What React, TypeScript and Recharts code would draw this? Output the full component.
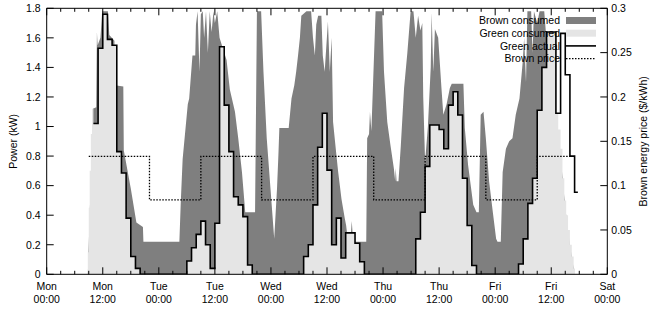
import { Area, ComposedChart, Legend, Line, XAxis, YAxis } from 'recharts';

// hours are counted from Mon 00:00
const DAY_NAMES = ['Mon', 'Tue', 'Wed', 'Thu', 'Fri', 'Sat'];
const LEGEND_LABELS = ['Brown consumed', 'Green consumed', 'Green actual', 'Brown price'];
const POWER_TICKS = [0, 0.2, 0.4, 0.6, 0.8, 1, 1.2, 1.4, 1.6, 1.8];
const PRICE_TICKS = [0, 0.05, 0.1, 0.15, 0.2, 0.25, 0.3];
const HOUR_TICKS = Array.from({ length: 41 }, (_, i) => i * 3);

// top of the dark area (total load, kW)
const TOTAL_LOAD: [number, number][] = [
  // Mon
  [8.8, 0], [9.9, 1.12], [10.6, 1.13], [10.75, 1.64], [10.9, 1.55], [11.5, 1.6], [11.9, 1.78], [13.1, 1.78],
  [13.4, 1.62], [14.5, 1.58], [14.6, 1.28], [16.4, 1.27], [16.5, 0.84], [18, 0.58], [19.2, 0.35], [20.6, 0.32],
  [20.7, 0.22],
  // Tue
  [28.4, 0.22], [28.7, 0.49], [29.1, 0.78], [30.2, 1.15], [30.5, 1.19], [31.2, 1.48], [31.8, 1.48], [31.95, 1.69],
  [32.3, 1.78], [32.7, 1.37], [33.0, 1.76], [33.4, 1.78], [33.7, 1.6], [34.1, 1.78], [34.5, 1.5], [34.9, 1.78],
  [35.3, 1.64], [35.7, 1.78], [36.0, 1.7], [36.5, 1.78], [37.0, 1.6], [37.5, 1.55], [38.5, 1.45], [39.2, 1.25],
  [40.3, 1.1], [41.0, 0.92], [41.8, 0.69], [42.5, 0.42], [44.6, 0.42], [45.0, 1.78], [45.9, 1.78], [46.4, 1.37],
  [47.1, 0.92], [47.9, 0.58], [48.7, 0.24],
  // Wed
  [49.3, 0.58], [49.6, 0.81], [49.8, 0.99], [51.8, 0.99], [52.4, 1.19], [53.0, 1.28], [53.4, 1.37], [53.8, 1.48],
  [54.2, 1.6], [54.5, 1.75], [55.6, 1.78], [56.6, 1.78], [57.0, 1.6], [57.4, 1.48], [57.7, 1.69], [58.1, 1.75],
  [58.8, 1.75], [59.1, 1.48], [59.5, 1.37], [60.2, 1.71], [60.6, 1.37], [61.0, 1.6], [61.3, 1.03], [62.0, 0.81],
  [62.4, 0.69], [63.1, 0.51], [63.8, 0.38], [64.1, 0.33], [64.5, 0.22], [65.0, 0.22], [65.3, 0.36], [65.6, 0.22],
  [68.4, 0.22], [68.6, 0.92], [69.0, 0.95], [69.2, 1.1], [69.5, 0.97], [70.4, 1.78], [71.8, 1.78], [72.2, 1.37],
  [72.9, 1.03], [73.6, 0.87], [74.3, 0.72], [74.6, 0.63], [74.7, 0.72], [74.9, 0.63], [75.3, 0.63], [75.8, 0.87],
  [76.5, 1.26], [77.2, 1.5], [77.9, 1.78],
  // Thu
  [78.5, 1.78], [79.0, 1.6], [79.5, 1.75], [80.0, 1.65], [80.4, 1.7], [80.6, 1.2], [81.0, 0.76], [81.6, 1.0],
  [82.2, 1.4], [82.4, 1.77], [82.75, 1.37], [83.1, 1.66], [83.8, 1.6], [84.5, 1.26], [84.9, 1.08], [85.6, 1.15],
  [86.3, 1.26], [86.7, 1.29], [89.2, 1.29], [89.5, 0.99], [90.2, 0.74], [91.3, 0.47], [92.0, 0.42], [92.5, 0.42],
  [92.9, 1.08], [93.5, 1.1], [94.0, 0.92], [94.7, 0.63], [95.5, 0.42], [96.2, 0.24], [96.5, 0.22], [97.2, 0.22],
  // Fri
  [97.6, 0.69], [98.3, 0.85], [99.0, 0.9], [99.7, 0.92], [100.4, 1.08], [101.2, 1.19], [101.9, 1.44], [102.2, 1.6],
  [102.6, 1.3], [102.9, 1.78], [103.7, 1.78], [104.0, 1.5], [104.3, 1.78], [105.0, 1.7], [105.5, 1.78], [106.5, 1.78],
  [106.9, 1.62], [107.5, 1.6], [108, 1.3], [109, 1.0], [110, 0.8], [111, 0.45], [112, 0.2], [113, 0],
];

// light area, held until the next point (kW)
const GREEN_CONSUMED: [number, number][] = [
  [8.8, 0.15], [9.0, 0.45], [9.2, 0.7], [9.45, 0.95], [9.7, 1.12], [10, 1.02], [11, 1.53], [12, 1.76], [13, 1.59],
  [14, 1.55], [15, 0.83], [16, 0.685], [17, 0.38], [18, 0.12], [19, 0.04], [20, 0],
  [30, 0.09], [31, 0.18], [32, 0.27], [33, 0.36], [34, 0.2], [35, 0.04], [36, 0.345], [37, 1.54], [38, 1.145],
  [39, 0.83], [40, 0.525], [41, 0.47], [42, 0.39], [43, 0.063], [44, 0],
  [55, 0.12], [56, 0.2], [57, 0.47], [58, 0.86], [59, 1.09], [60, 0.705], [61, 0.2], [62, 0.38], [63, 0.11],
  [64, 0.28], [66, 0.21], [67, 0.085], [68, 0],
  [79, 0.24], [80, 0.42], [81, 0.73], [82, 1.01], [84, 0.98], [85, 0.85], [86, 1.145], [87, 1.235], [88, 1.078],
  [89, 0.65], [90, 0.33], [91, 0.06], [92, 0],
  [101, 0.07], [102, 0.24], [103, 0.48], [104, 0.65], [105, 1.11], [106, 1.4], [107, 1.64], [109, 1.09],
  [109.5, 0.98], [110, 0.85], [110.4, 0.65], [110.8, 0.5], [111.2, 0.4], [111.6, 0.3], [112, 0.2], [112.4, 0.12],
  [112.8, 0.04], [113.1, 0],
];

// hourly solar production (kW)
const GREEN_ACTUAL: [number, number][] = [
  [10, 1.02], [11, 1.53], [12, 1.76], [13, 1.59], [14, 1.55], [15, 0.83], [16, 0.685], [17, 0.38], [18, 0.12],
  [19, 0.04], [20, 0],
  [30, 0.09], [31, 0.18], [32, 0.27], [33, 0.36], [34, 0.2], [35, 0.04], [36, 0.345], [37, 1.54], [38, 1.145],
  [39, 0.83], [40, 0.525], [41, 0.47], [42, 0.39], [43, 0.063], [44, 0],
  [55, 0.12], [56, 0.2], [57, 0.47], [58, 0.86], [59, 1.09], [60, 0.705], [61, 0.2], [62, 0.38], [63, 0.11],
  [64, 0.28], [66, 0.21], [67, 0.085], [68, 0],
  [79, 0.24], [80, 0.42], [81, 0.73], [82, 1.01], [84, 0.98], [85, 0.85], [86, 1.145], [87, 1.235], [88, 1.078],
  [89, 0.65], [90, 0.33], [91, 0.06], [92, 0],
  [101, 0.07], [102, 0.24], [103, 0.48], [104, 0.65], [105, 1.11], [106, 1.4], [107, 1.64], [109, 1.09],
  [110, 1.63], [111, 1.35], [112, 0.8], [113, 0.555], [113.7, 0.555],
];

// $/kWh
const BROWN_PRICE: [number, number][] = [
  [9, 0.133], [22, 0.084], [33, 0.133], [46, 0.084], [57, 0.133], [70, 0.084], [81, 0.133], [94, 0.084],
  [105, 0.133], [112.5, 0.133],
];

const FONT = '"Liberation Sans", Arial, Helvetica, sans-serif';
const DARK = '#7f7f7f';
const LIGHT = '#e5e5e5';

const rows = (pts: [number, number][]) => pts.map(([h, v]) => ({ h, v }));

function BottomTick({ x, y, payload }: any) {
  const h = payload.value as number;
  const major = h % 12 === 0;
  return (
    <g>
      <line x1={x} x2={x} y1={y} y2={y - (major ? 7 : 3.5)} stroke="#000" />
      {major && (
        <text x={x} y={y + 16} textAnchor="middle" fontSize={10.5} fontFamily={FONT} fill="#000">
          <tspan x={x}>{DAY_NAMES[Math.floor(h / 24)]}</tspan>
          <tspan x={x} dy={13}>{h % 24 === 0 ? '00:00' : '12:00'}</tspan>
        </text>
      )}
    </g>
  );
}

function TopTick({ x, y, payload }: any) {
  const major = (payload.value as number) % 12 === 0;
  return <line x1={x} x2={x} y1={y} y2={y + (major ? 7 : 3.5)} stroke="#000" />;
}

function LeftTick({ x, y, payload }: any) {
  return (
    <g>
      <line x1={x} x2={x + 7} y1={y} y2={y} stroke="#000" />
      <text x={x - 6} y={y + 3.8} textAnchor="end" fontSize={10.5} fontFamily={FONT} fill="#000">
        {String(payload.value)}
      </text>
    </g>
  );
}

function RightTick({ x, y, payload }: any) {
  return (
    <g>
      <line x1={x} x2={x - 7} y1={y} y2={y} stroke="#000" />
      <text x={x + 4} y={y + 3.8} textAnchor="start" fontSize={10.5} fontFamily={FONT} fill="#000">
        {String(payload.value)}
      </text>
    </g>
  );
}

function axisTitle(text: string, dx: number) {
  return ({ viewBox }: any) => {
    const cx = viewBox.x + dx;
    const cy = viewBox.y + viewBox.height / 2;
    return (
      <text x={cx} y={cy} transform={`rotate(-90 ${cx} ${cy})`} textAnchor="middle"
        dominantBaseline="central" fontSize={10.5} fontFamily={FONT} fill="#000">
        {text}
      </text>
    );
  };
}

function KeyBox() {
  const rowY = [10.5, 23.2, 35.9, 48.6];
  return (
    <svg width={140} height={60} style={{ display: 'block', overflow: 'visible' }}>
      {LEGEND_LABELS.map((label, i) => (
        <text key={label} x={90} y={rowY[i] + 3.8} textAnchor="end" fontSize={10.5} fontFamily={FONT} fill="#000">
          {label}
        </text>
      ))}
      <rect x={96} y={rowY[0] - 3.5} width={30} height={7} fill={DARK} />
      <rect x={96} y={rowY[1] - 3.5} width={30} height={7} fill={LIGHT} />
      <line x1={96} x2={126} y1={rowY[2]} y2={rowY[2]} stroke="#000" strokeWidth={1.6} />
      <line x1={96} x2={126} y1={rowY[3]} y2={rowY[3]} stroke="#000" strokeWidth={1.3} strokeDasharray="1.5 1.5" />
    </svg>
  );
}

export default function App() {
  return (
    <div style={{ position: 'absolute', left: 0, top: 0 }}>
      <ComposedChart width={655} height={314} margin={{ top: 7.3, right: 0, bottom: 0, left: 0 }}>
        <XAxis
          dataKey="h" type="number" domain={[0, 120]} ticks={HOUR_TICKS} interval={0}
          allowDataOverflow height={39.7} tickSize={0} tickMargin={0}
          axisLine={{ stroke: '#000' }} tickLine={false} tick={<BottomTick />}
        />
        <XAxis
          xAxisId="top" orientation="top" dataKey="h" type="number" domain={[0, 120]} ticks={HOUR_TICKS}
          interval={0} allowDataOverflow height={1} tickSize={0} tickMargin={0}
          axisLine={{ stroke: '#000' }} tickLine={false} tick={<TopTick />}
        />
        <YAxis
          yAxisId="kw" domain={[0, 1.8]} ticks={POWER_TICKS} interval={0} allowDataOverflow
          width={46.7} tickSize={0} tickMargin={0} axisLine={{ stroke: '#000' }} tickLine={false}
          tick={<LeftTick />} label={{ content: axisTitle('Power (kW)', 13.5) }}
        />
        <YAxis
          yAxisId="price" orientation="right" domain={[0, 0.3]} ticks={PRICE_TICKS} interval={0}
          allowDataOverflow width={47.7} tickSize={0} tickMargin={0} axisLine={{ stroke: '#000' }}
          tickLine={false} tick={<RightTick />}
          label={{ content: axisTitle('Brown energy price ($/kWh)', 35.5) }}
        />
        <Area
          yAxisId="kw" data={rows(TOTAL_LOAD)} dataKey="v" name={LEGEND_LABELS[0]} type="linear"
          fill={DARK} fillOpacity={1} stroke="none" isAnimationActive={false}
        />
        <Area
          yAxisId="kw" data={rows(GREEN_CONSUMED)} dataKey="v" name={LEGEND_LABELS[1]} type="stepAfter"
          fill={LIGHT} fillOpacity={1} stroke="none" isAnimationActive={false}
        />
        <Line
          yAxisId="kw" data={rows(GREEN_ACTUAL)} dataKey="v" name={LEGEND_LABELS[2]} type="stepAfter"
          stroke="#000" strokeWidth={1.6} dot={false} activeDot={false} isAnimationActive={false}
        />
        <Line
          yAxisId="price" data={rows(BROWN_PRICE)} dataKey="v" name={LEGEND_LABELS[3]} type="stepAfter"
          stroke="#000" strokeWidth={1.3} strokeDasharray="1.5 1.5" dot={false} activeDot={false}
          isAnimationActive={false}
        />
        <Legend
          layout="vertical" align="center" verticalAlign="middle"
          wrapperStyle={{ left: 470, top: 10, width: 140, height: 60 }}
          content={() => <KeyBox />}
        />
      </ComposedChart>
    </div>
  );
}
